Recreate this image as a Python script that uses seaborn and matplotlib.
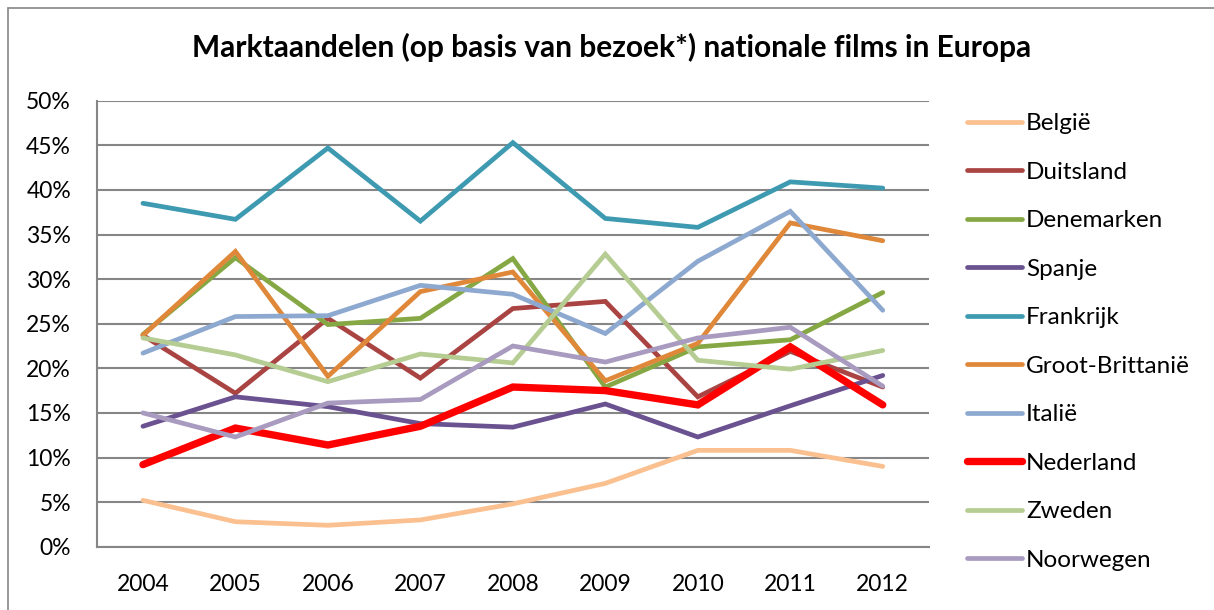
import matplotlib
matplotlib.use("Agg")
import matplotlib.pyplot as plt
import seaborn as sns
import pandas as pd
from matplotlib.lines import Line2D
from matplotlib.ticker import FuncFormatter

years = ["2004", "2005", "2006", "2007", "2008", "2009", "2010", "2011", "2012"]

belgie = [5.2, 2.8, 2.4, 3.0, 4.8, 7.1, 10.8, 10.8, 9.0]
duitsland = [23.7, 17.2, 25.6, 18.9, 26.7, 27.5, 16.8, 21.9, 17.9]
denemarken = [23.8, 32.4, 24.9, 25.6, 32.3, 17.9, 22.4, 23.2, 28.5]
spanje = [13.5, 16.8, 15.7, 13.8, 13.4, 16.0, 12.3, 15.8, 19.2]
frankrijk = [38.5, 36.7, 44.7, 36.5, 45.3, 36.8, 35.8, 40.9, 40.2]
groot_brittannie = [23.7, 33.1, 19.1, 28.6, 30.8, 18.6, 22.8, 36.3, 34.3]
italie = [21.7, 25.8, 25.9, 29.3, 28.3, 23.9, 32.0, 37.6, 26.5]
nederland = [9.2, 13.3, 11.4, 13.5, 17.9, 17.5, 15.9, 22.4, 15.9]
zweden = [23.4, 21.5, 18.5, 21.6, 20.6, 32.8, 20.9, 19.9, 22.0]
noorwegen = [15.0, 12.3, 16.1, 16.5, 22.5, 20.7, 23.4, 24.6, 18.0]

countries = ["België", "Duitsland", "Denemarken", "Spanje", "Frankrijk",
             "Groot-Brittanië", "Italië", "Nederland", "Zweden", "Noorwegen"]
series = [belgie, duitsland, denemarken, spanje, frankrijk,
          groot_brittannie, italie, nederland, zweden, noorwegen]
colors = ["#FAC090", "#A94442", "#86A844", "#6A5190", "#3D9AB1",
          "#E0883A", "#8EA9D0", "#FF0000", "#B5CC92", "#A89BBF"]

rows = []
for name, vals in zip(countries, series):
    for i, v in enumerate(vals):
        rows.append({"land": name, "jaar": i, "aandeel": v})
df = pd.DataFrame(rows)

sns.set_theme(style="white")
plt.rcParams["font.family"] = ["Lato", "DejaVu Sans"]

W, H = 1214, 610
fig = plt.figure(figsize=(W / 100, H / 100), dpi=100)
fig.patch.set_facecolor("white")

# chart frame (top and left edges visible)
fx, fy = 7.5 / W, 1 - 7.5 / H
fig.add_artist(Line2D([fx, 1.0], [fy, fy], transform=fig.transFigure,
                      color="#868686", linewidth=1.2))
fig.add_artist(Line2D([fx, fx], [fy, 0.0], transform=fig.transFigure,
                      color="#868686", linewidth=1.2))

ax_l, ax_r, ax_t, ax_b = 96.7, 929, 100.7, 546.7
ax = fig.add_axes([ax_l / W, 1 - ax_b / H, (ax_r - ax_l) / W, (ax_b - ax_t) / H])

for name, col in zip(countries, colors):
    lw = 5.3 if name == "Nederland" else 3.4
    sns.lineplot(data=df[df["land"] == name], x="jaar", y="aandeel", color=col,
                 linewidth=lw, ax=ax, label=name, solid_capstyle="round",
                 solid_joinstyle="miter")

ax.set_xlim(-0.5, 8.5)
ax.set_ylim(0, 50)
ax.set_yticks(range(0, 51, 5))
ax.yaxis.set_major_formatter(FuncFormatter(lambda v, p: f"{int(v)}%"))
ax.set_xticks(range(9))
ax.set_xticklabels(years)
ax.set_xticks([i - 0.5 for i in range(10)], minor=True)
ax.tick_params(axis="x", which="major", length=0, pad=20, labelsize=16.5, colors="black")
ax.tick_params(axis="x", which="minor", length=6, width=1.5, color="#868686")
ax.tick_params(axis="y", which="major", length=6.5, width=1.5, color="#868686",
               labelsize=16.5, pad=12, labelcolor="black")
ax.grid(axis="y", color="#868686", linewidth=1.5)
ax.set_axisbelow(True)
for s in ["top", "right"]:
    ax.spines[s].set_visible(False)
for s in ["left", "bottom"]:
    ax.spines[s].set_color("#868686")
    ax.spines[s].set_linewidth(1.5)
ax.set_xlabel("")
ax.set_ylabel("")

leg = ax.legend(loc="center left", bbox_to_anchor=(967 / W, 1 - 342 / H),
                bbox_transform=fig.transFigure,
                frameon=False, fontsize=17.5, handlelength=2.26, handletextpad=0.17,
                labelspacing=1.13, borderaxespad=0, borderpad=0)
for t in leg.get_texts():
    t.set_color("black")

fig.text(0.5 + 5 / W, 1 - 57.5 / H,
         "Marktaandelen (op basis van bezoek*) nationale films in Europa",
         ha="center", va="baseline", fontsize=21.5, fontweight="bold", color="black")

fig.savefig("out.png", dpi=100)
